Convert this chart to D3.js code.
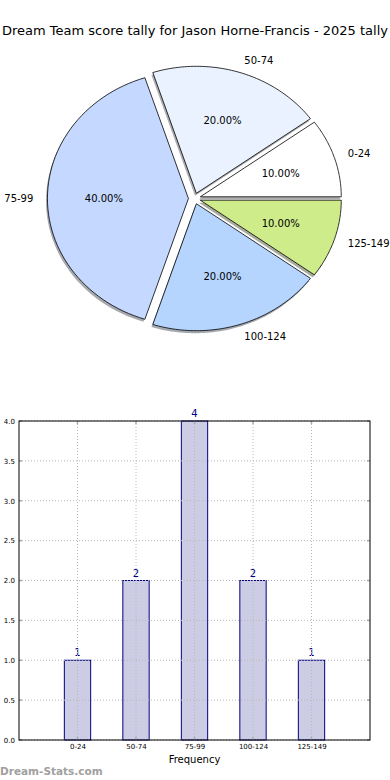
<!DOCTYPE html>
<html>
<head>
<meta charset="utf-8">
<script src="https://cdn.jsdelivr.net/npm/d3@7"></script>
<style>
  body { margin: 0; background: #fff; }
  svg { display: block; font-family: "DejaVu Sans", sans-serif; }
</style>
</head>
<body>
<div id="chart"></div>
<script>
// data
var categories = ["0-24", "50-74", "75-99", "100-124", "125-149"];
var counts = [1, 2, 4, 2, 1];
var sliceColors = ["#ffffff", "#eaf2ff", "#c5d8ff", "#b5d5ff", "#cfec8a"];
var yTicks = [0, 0.5, 1, 1.5, 2, 2.5, 3, 3.5, 4];

var W = 390, H = 780;
var svg = d3.select("#chart").append("svg").attr("width", W).attr("height", H);

svg.append("text")
  .attr("x", W / 2).attr("y", 35)
  .attr("text-anchor", "middle")
  .style("font-size", "13px")
  .text("Dream Team score tally for Jason Horne-Francis - 2025 tally");

// ---- pie (elliptical, like the original) ----
var cx = 194.5, cy = 198.5, rx = 141, ry = 127, explode = 0.043;
var total = d3.sum(counts);

// angles counterclockwise from 3 o'clock, like matplotlib
var acc = 0;
var slices = counts.map(function(c, i) {
  var a0 = acc / total * 2 * Math.PI;
  acc += c;
  var a1 = acc / total * 2 * Math.PI;
  return {i: i, a0: a0, a1: a1, mid: (a0 + a1) / 2, v: c};
});

var sx = d3.scaleLinear().domain([-1, 1]).range([cx - rx, cx + rx]);
var sy = d3.scaleLinear().domain([-1, 1]).range([cy + ry, cy - ry]);

function slicePath(s, ox, oy) {
  var p = d3.path();
  var x0 = Math.cos(s.mid) * explode + ox, y0 = Math.sin(s.mid) * explode + oy;
  p.moveTo(sx(x0), sy(y0));
  var n = 60;
  for (var k = 0; k <= n; k++) {
    var a = s.a0 + (s.a1 - s.a0) * k / n;
    p.lineTo(sx(x0 + Math.cos(a)), sy(y0 + Math.sin(a)));
  }
  p.closePath();
  return p.toString();
}

var pie = svg.append("g");
slices.forEach(function(s) {
  var c = d3.rgb(sliceColors[s.i]);
  pie.append("path")
    .attr("d", slicePath(s, -0.01, -0.02))
    .attr("fill", d3.rgb(c.r * 0.3, c.g * 0.3, c.b * 0.3))
    .attr("fill-opacity", 0.45);
  pie.append("path")
    .attr("d", slicePath(s, 0, 0))
    .attr("fill", sliceColors[s.i])
    .attr("stroke", "#000")
    .attr("stroke-width", 0.8);
});

slices.forEach(function(s) {
  var x0 = Math.cos(s.mid) * explode, y0 = Math.sin(s.mid) * explode;
  var lx = x0 + 1.1 * Math.cos(s.mid), ly = y0 + 1.1 * Math.sin(s.mid);
  pie.append("text")
    .attr("x", sx(lx)).attr("y", sy(ly))
    .attr("dy", "0.35em")
    .attr("text-anchor", lx > 0 ? "start" : "end")
    .style("font-size", "10px")
    .text(categories[s.i]);
  pie.append("text")
    .attr("x", sx(x0 + 0.6 * Math.cos(s.mid))).attr("y", sy(y0 + 0.6 * Math.sin(s.mid)))
    .attr("dy", "0.35em")
    .attr("text-anchor", "middle")
    .style("font-size", "10px")
    .text((s.v / total * 100).toFixed(2) + "%");
});

// ---- bar chart ----
var plotL = 19, plotR = 370, plotT = 421, plotB = 740;
var x = d3.scaleLinear().domain([-1, categories.length]).range([plotL, plotR]);
var y = d3.scaleLinear().domain([0, 4]).range([plotB, plotT]);
var bw = 0.45;

var bars = svg.append("g");
bars.selectAll("rect.bar")
  .data(counts)
  .enter().append("rect")
  .attr("class", "bar")
  .attr("x", function(d, i) { return x(i - bw / 2); })
  .attr("y", function(d) { return y(d); })
  .attr("width", x(bw) - x(0))
  .attr("height", function(d) { return y(0) - y(d); })
  .attr("fill", "#ccccE5")
  .attr("stroke", "#000080")
  .attr("stroke-width", 1);

// grid
var grid = svg.append("g")
  .attr("stroke", "#b8b8b8").attr("stroke-width", 1)
  .attr("stroke-dasharray", "1,2");
categories.forEach(function(c, i) {
  grid.append("line").attr("x1", x(i)).attr("x2", x(i)).attr("y1", plotT).attr("y2", plotB);
});
yTicks.forEach(function(t) {
  grid.append("line").attr("x1", plotL).attr("x2", plotR).attr("y1", y(t)).attr("y2", y(t));
});

// small gray tick marks on top and right edges
var marks = svg.append("g").attr("stroke", "#aaa").attr("stroke-width", 1.5);
categories.forEach(function(c, i) {
  marks.append("line").attr("x1", x(i)).attr("x2", x(i)).attr("y1", plotT).attr("y2", plotT + 3);
  marks.append("line").attr("x1", x(i)).attr("x2", x(i)).attr("y1", plotB).attr("y2", plotB - 3);
});
yTicks.forEach(function(t) {
  marks.append("line").attr("x1", plotR - 3).attr("x2", plotR).attr("y1", y(t)).attr("y2", y(t));
  marks.append("line").attr("x1", plotL).attr("x2", plotL + 3).attr("y1", y(t)).attr("y2", y(t));
});

// value labels
bars.selectAll("text.val")
  .data(counts)
  .enter().append("text")
  .attr("class", "val")
  .attr("x", function(d, i) { return x(i); })
  .attr("y", function(d) { return y(d) - 4; })
  .attr("text-anchor", "middle")
  .attr("fill", "#000080")
  .style("font-size", "10px")
  .text(function(d) { return d; });

// axes
var yAxis = d3.axisLeft(y).tickValues(yTicks).tickFormat(d3.format(".1f")).tickSize(0).tickPadding(4);
var gy = svg.append("g").attr("transform", "translate(" + plotL + ",0)").call(yAxis);
gy.select(".domain").remove();
gy.selectAll("text").style("font-size", "7px").attr("fill", "#000").style("font-family", "DejaVu Sans, sans-serif");

var xAxis = d3.axisBottom(x).tickValues(d3.range(categories.length))
  .tickFormat(function(i) { return categories[i]; }).tickSize(0).tickPadding(4);
var gx = svg.append("g").attr("transform", "translate(0," + plotB + ")").call(xAxis);
gx.select(".domain").remove();
gx.selectAll("text").style("font-size", "7px").attr("fill", "#000").style("font-family", "DejaVu Sans, sans-serif");

svg.append("rect")
  .attr("x", plotL).attr("y", plotT)
  .attr("width", plotR - plotL).attr("height", plotB - plotT)
  .attr("fill", "none").attr("stroke", "#000").attr("stroke-width", 1);

svg.append("text")
  .attr("x", (plotL + plotR) / 2).attr("y", 763)
  .attr("text-anchor", "middle")
  .style("font-size", "10px")
  .text("Frequency");

svg.append("text")
  .attr("x", 0).attr("y", 775)
  .attr("fill", "#a0a0a0")
  .style("font-size", "10.5px")
  .style("font-weight", "bold")
  .text("Dream-Stats.com");
</script>
</body>
</html>
